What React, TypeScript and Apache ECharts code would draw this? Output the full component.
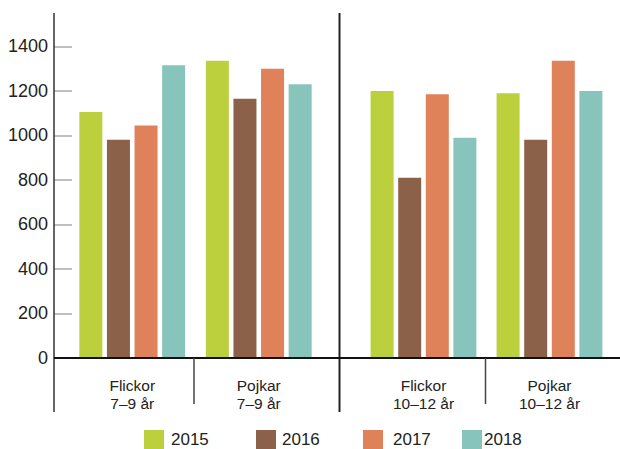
import React, { useEffect, useRef } from "react";
import * as echarts from "echarts";

const years = ["2015", "2016", "2017", "2018"];
const leftCategories = ["Flickor\n7–9 år", "Pojkar\n7–9 år"];
const rightCategories = ["Flickor\n10–12 år", "Pojkar\n10–12 år"];
// values per year: [Flickor 7–9, Pojkar 7–9, Flickor 10–12, Pojkar 10–12]
const values2015 = [1105, 1335, 1200, 1190];
const values2016 = [980, 1165, 810, 980];
const values2017 = [1045, 1300, 1185, 1335];
const values2018 = [1315, 1230, 990, 1200];
const yTicks = [0, 200, 400, 600, 800, 1000, 1200, 1400];

const colors = ["#bbd03c", "#8b6249", "#df8159", "#87c5bc"];
const font = "Liberation Sans, Arial, Helvetica, sans-serif";

export default function App() {
  const ref = useRef<HTMLDivElement>(null);
  useEffect(() => {
    if (!ref.current) return;
    const chart = echarts.init(ref.current, null, { renderer: "svg" });
    const allValues = [values2015, values2016, values2017, values2018];
    const series: any[] = [];
    years.forEach((y, i) => {
      series.push({
        name: y,
        type: "bar",
        xAxisIndex: 0,
        yAxisIndex: 0,
        data: allValues[i].slice(0, 2),
        barWidth: 23,
        barGap: "20%",
        itemStyle: { color: colors[i] },
      });
      series.push({
        name: y,
        type: "bar",
        xAxisIndex: 1,
        yAxisIndex: 1,
        data: allValues[i].slice(2, 4),
        barWidth: 23,
        barGap: "20%",
        itemStyle: { color: colors[i] },
      });
    });
    const legendLefts = [144, 256, 363, 462];
    const legendPads = [2, 1, 5, -3];
    const xAxisCommon = {
      type: "category",
      axisLine: { show: false },
      axisTick: { show: false },
      axisLabel: {
        fontFamily: font,
        fontSize: 15.5,
        lineHeight: 18,
        color: "#222",
        margin: 18,
      },
    };
    const yAxisCommon = {
      type: "value",
      min: 0,
      max: 1550,
      splitLine: { show: false },
    };
    chart.setOption({
      animation: false,
      grid: [
        { left: 69, width: 253, top: 13, bottom: 91 },
        { left: 360.5, width: 252, top: 13, bottom: 91 },
      ],
      xAxis: [
        { ...xAxisCommon, gridIndex: 0, data: leftCategories },
        { ...xAxisCommon, gridIndex: 1, data: rightCategories },
      ],
      yAxis: [
        {
          ...yAxisCommon,
          gridIndex: 0,
          offset: 15,
          axisLine: { show: false },
          axisTick: {
            show: true,
            inside: true,
            length: 18,
            lineStyle: { color: "#aaa", width: 1.5 },
            customValues: yTicks,
          },
          axisLabel: {
            fontFamily: font,
            fontSize: 18,
            color: "#222",
            margin: 6,
            customValues: yTicks,
            formatter: (v: number) => String(v),
          },
        },
        { ...yAxisCommon, gridIndex: 1, show: false },
      ],
      legend: years.map((y, i) => ({
        data: [y],
        left: legendLefts[i],
        top: 430,
        padding: 0,
        icon: "rect",
        itemWidth: 20,
        itemHeight: 19,
        selectedMode: false,
        textStyle: {
          fontFamily: font,
          fontSize: 17,
          color: "#222",
          padding: [0, 0, 0, legendPads[i]],
        },
      })),
      graphic: [
        { type: "line", shape: { x1: 54, y1: 13, x2: 54, y2: 412 }, style: { stroke: "#333", lineWidth: 1.5 }, z: 10 },
        { type: "line", shape: { x1: 339.5, y1: 13, x2: 339.5, y2: 412 }, style: { stroke: "#222", lineWidth: 2 }, z: 10 },
        { type: "line", shape: { x1: 54, y1: 358, x2: 620, y2: 358 }, style: { stroke: "#111", lineWidth: 2 }, z: 10 },
        { type: "line", shape: { x1: 194, y1: 358, x2: 194, y2: 404 }, style: { stroke: "#444", lineWidth: 1.5 }, z: 10 },
        { type: "line", shape: { x1: 485.5, y1: 358, x2: 485.5, y2: 404 }, style: { stroke: "#444", lineWidth: 1.5 }, z: 10 },
      ],
      series,
    });
    return () => chart.dispose();
  }, []);
  return (
    <div
      ref={ref}
      style={{ position: "fixed", left: 0, top: 0, width: 620, height: 449, background: "#fff" }}
    />
  );
}
